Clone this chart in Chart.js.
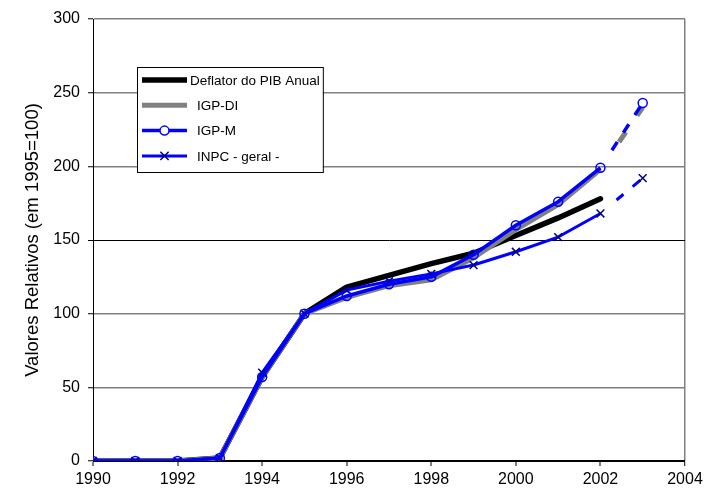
<!DOCTYPE html>
<html>
<head>
<meta charset="utf-8">
<script src="https://cdn.jsdelivr.net/npm/chart.js@4/dist/chart.umd.min.js"></script>
<style>
  html, body { margin: 0; padding: 0; background: #ffffff; }
  #c { display: block; }
</style>
</head>
<body>
<canvas id="c" width="709" height="495"></canvas>
<script>
// Price indices, relative values (1995 = 100)
const years     = [1990, 1991, 1992, 1993, 1994, 1995, 1996, 1997, 1998, 1999, 2000, 2001, 2002, 2003];
const deflator  = [0, 0, 0, 2, 57, 100, 118, 126, 134, 141, 153, 165, 178];
const igpDI     = [0, 0, 0, 2, 57, 100, 111, 119, 123, 138, 157, 174, 198, 240];
const igpM      = [0, 0, 0, 2, 57, 100, 112, 120, 125, 140, 160, 176, 199, 243];
const inpc      = [0, 0, 0, 2, 60, 100, 116, 122, 127, 133, 142, 152, 168, 192];
const seriesNames = ['Deflator do PIB Anual', 'IGP-DI', 'IGP-M', 'INPC - geral -'];
const yTicks = [0, 50, 100, 150, 200, 250, 300];
const xTicks = [1990, 1992, 1994, 1996, 1998, 2000, 2002, 2004];
const yTitle = 'Valores Relativos (em 1995=100)';

const FONT = '"Liberation Sans", Arial, sans-serif';
const toPoints = vals => vals.map((v, i) => ({ x: years[i], y: v }));

// the 2002 -> 2003 step is an estimate, drawn dashed
const dashLast = pattern => ({
  borderDash: ctx => ctx.p0.parsed.x === 2002 ? pattern : undefined
});

const legendBox = {
  id: 'legendBox',
  afterDraw(chart) {
    const c = chart.ctx;
    const ds = chart.data.datasets;
    const x0 = 137, y0 = 67, rowH = 25.3, firstRow = 80;
    const lineX1 = 142, lineX2 = 187;
    const textXs = [190, 197, 197, 197];
    c.save();
    c.font = '13.5px ' + FONT;
    let right = 0;
    ds.forEach((d, i) => { right = Math.max(right, textXs[i] + c.measureText(d.label).width); });
    const w = right + 3 - x0;
    const h = 105;
    c.fillStyle = '#ffffff';
    c.fillRect(x0, y0, w, h);
    c.strokeStyle = '#000000';
    c.lineWidth = 1;
    c.strokeRect(x0 + 0.5, y0 + 0.5, w, h);
    ds.forEach((d, i) => {
      const y = firstRow + i * rowH;
      c.strokeStyle = d.borderColor;
      c.lineWidth = d.borderWidth;
      c.setLineDash([]);
      c.beginPath();
      c.moveTo(lineX1, y);
      c.lineTo(lineX2, y);
      c.stroke();
      const mx = (lineX1 + lineX2) / 2;
      if (d.pointStyle === 'circle' && d.pointRadius > 0) {
        c.lineWidth = d.pointBorderWidth;
        c.strokeStyle = d.pointBorderColor;
        c.fillStyle = '#ffffff';
        c.beginPath();
        c.arc(mx, y, d.pointRadius, 0, Math.PI * 2);
        c.fill();
        c.stroke();
      } else if (d.pointStyle === 'crossRot' && d.pointRadius > 0) {
        const r = d.pointRadius * 0.75;
        c.lineWidth = d.pointBorderWidth;
        c.strokeStyle = d.pointBorderColor;
        c.beginPath();
        c.moveTo(mx - r, y - r); c.lineTo(mx + r, y + r);
        c.moveTo(mx + r, y - r); c.lineTo(mx - r, y + r);
        c.stroke();
      }
      c.fillStyle = '#000000';
      c.textBaseline = 'middle';
      c.textAlign = 'left';
      c.fillText(d.label, textXs[i], y + 1);
    });
    c.restore();
  }
};

const whiteBg = {
  id: 'whiteBg',
  beforeDraw(chart) {
    const c = chart.ctx;
    c.save();
    c.fillStyle = '#ffffff';
    c.fillRect(0, 0, chart.width, chart.height);
    c.restore();
  }
};

new Chart(document.getElementById('c'), {
  type: 'line',
  data: {
    datasets: [
      {
        label: seriesNames[0],
        data: toPoints(deflator),
        borderColor: '#000000',
        borderWidth: 5.5,
        pointRadius: 0,
        pointStyle: false,
        borderCapStyle: 'round',
        borderJoinStyle: 'round',
        order: 4
      },
      {
        label: seriesNames[1],
        data: toPoints(igpDI),
        borderColor: '#808080',
        borderWidth: 5,
        pointRadius: 0,
        pointStyle: false,
        borderJoinStyle: 'round',
        segment: dashLast([0, 33, 12, 20, 10, 40]),
        order: 3
      },
      {
        label: seriesNames[2],
        data: toPoints(igpM),
        borderColor: '#0000ff',
        borderWidth: 3.5,
        pointStyle: 'circle',
        pointRadius: 4.5,
        pointBorderWidth: 1.5,
        pointBorderColor: '#0000ff',
        pointBackgroundColor: 'rgba(255,255,255,0)',
        borderJoinStyle: 'round',
        segment: dashLast([0, 21, 10, 11, 10, 11, 10, 40]),
        order: 1
      },
      {
        label: seriesNames[3],
        data: toPoints(inpc),
        borderColor: '#0000ff',
        borderWidth: 3,
        pointStyle: 'crossRot',
        pointRadius: 5.5,
        pointBorderWidth: 1.5,
        pointBorderColor: '#000080',
        pointBackgroundColor: '#000080',
        borderJoinStyle: 'round',
        segment: dashLast([0, 21, 9, 12, 10, 40]),
        order: 2
      }
    ]
  },
  options: {
    responsive: false,
    animation: false,
    events: [],
    layout: { padding: { left: 0, top: 19, right: 24, bottom: 0 } },
    elements: { line: { tension: 0 } },
    plugins: {
      legend: { display: false },
      tooltip: { enabled: false }
    },
    scales: {
      x: {
        type: 'linear',
        min: xTicks[0],
        max: xTicks[xTicks.length - 1],
        afterBuildTicks: s => { s.ticks = xTicks.map(v => ({ value: v })); },
        afterFit: s => { s.height = 34; },
        border: { color: '#000000', width: 1 },
        grid: {
          drawOnChartArea: true,
          color: ctx => (ctx.tick && ctx.tick.value === 2004) ? '#808080' : 'rgba(0,0,0,0)',
          lineWidth: ctx => (ctx.tick && ctx.tick.value === 2004) ? 1.5 : 0,
          tickColor: '#000000',
          tickLength: 5,
          tickWidth: 1
        },
        ticks: {
          color: '#000000',
          font: { family: FONT, size: 16 },
          padding: 4,
          maxRotation: 0,
          callback: v => String(v)
        }
      },
      y: {
        min: yTicks[0],
        max: yTicks[yTicks.length - 1],
        afterBuildTicks: s => { s.ticks = yTicks.map(v => ({ value: v })); },
        afterFit: s => { s.width = 93; },
        border: { color: '#000000', width: 1 },
        grid: {
          color: ctx => (ctx.tick && (ctx.tick.value === 150 || ctx.tick.value === 0)) ? '#000000' : '#808080',
          lineWidth: ctx => (ctx.tick && ctx.tick.value === 150) ? 1 : 1.5,
          tickColor: '#000000',
          tickLength: 5,
          tickWidth: 1
        },
        ticks: {
          color: '#000000',
          font: { family: FONT, size: 16 },
          padding: 8,
          callback: v => String(v)
        },
        title: {
          display: true,
          text: yTitle,
          color: '#000000',
          font: { family: FONT, size: 18.5, weight: 'normal' },
          padding: { top: 22, bottom: 0 }
        }
      }
    }
  },
  plugins: [whiteBg, legendBox]
});
</script>
</body>
</html>
